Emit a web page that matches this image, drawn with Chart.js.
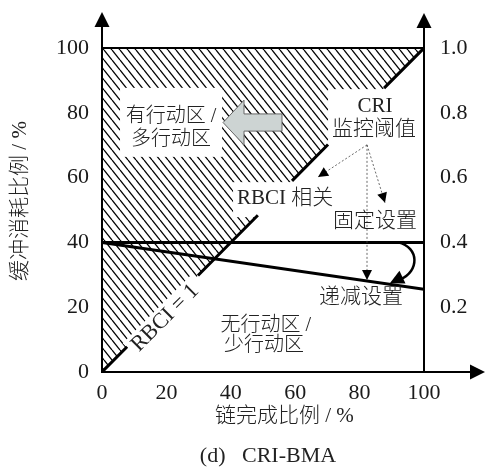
<!DOCTYPE html>
<html lang="zh">
<head>
<meta charset="UTF-8">
<title>CRI-BMA</title>
<script src="https://cdn.jsdelivr.net/npm/chart.js"></script>
<style>
  html, body { margin: 0; padding: 0; background: #fff; }
  #wrap { width: 486px; height: 468px; }
</style>
</head>
<body>
<div id="wrap"><canvas id="chart" width="486" height="468"></canvas></div>
<script>
  // tick labels
  const xTicks = [0, 20, 40, 60, 80, 100];
  const leftTicks = [0, 20, 40, 60, 80, 100];
  const rightTicks = [0.2, 0.4, 0.6, 0.8, 1.0];

  // fixed CRI threshold
  const fixedX = [0, 100];
  const fixedY = [40, 40];
  // decreasing CRI threshold
  const decX = [0, 100];
  const decY = [40, 25.5];
  // RBCI = 1 diagonal, broken where the labels sit
  const rbciSegs = [[0, 7.8], [29.8, 48.4], [59, 70.2], [87.6, 100]];
  // hatched zone: above the diagonal, up to 100
  const zoneX = [0, 100];
  const zoneY = [0, 100];
  const topX = [0, 100];
  const topY = [100, 100];

  const SERIF = '"Liberation Serif", "Noto Sans CJK SC", serif';
  const INK = '#1a1a1a';

  // diagonal hatch tile
  function hatchPattern() {
    const c = document.createElement('canvas');
    c.width = 8; c.height = 10;
    const g = c.getContext('2d');
    g.strokeStyle = '#000';
    g.lineWidth = 1.3;
    for (let k = -1; k <= 1; k++) {
      g.beginPath();
      g.moveTo(k * 8, 0);
      g.lineTo(k * 8 + 8, 10);
      g.stroke();
    }
    return g.createPattern(c, 'repeat');
  }

  const toPts = (xs, ys) => xs.map((x, i) => ({ x: x, y: ys[i] }));
  const rbciPts = [];
  rbciSegs.forEach((s, i) => {
    if (i > 0) rbciPts.push({ x: s[0], y: null });
    rbciPts.push({ x: s[0], y: s[0] }, { x: s[1], y: s[1] });
  });

  // white boxes behind labels inside the hatch (data units)
  const masks = [
    { x0: 5.6, x1: 37.3, y0: 66.4, y1: 87.7 },
    { x0: 40.7, x1: 59, y0: 47.8, y1: 58.6 },
    { x0: 70.2, x1: 87.6, y0: 69.4, y1: 87.3 }
  ];

  const notes = [
    { t: '有行动区 /', x: 21.4, y: 78.7, size: 20 },
    { t: '多行动区', x: 21.4, y: 71.6, size: 20 },
    { t: 'CRI', x: 84.8, y: 81.8, size: 21 },
    { t: '监控阈值', x: 84.5, y: 75, size: 21 },
    { t: 'RBCI 相关', x: 41.9, y: 53.7, size: 21, align: 'left' },
    { t: '固定设置', x: 84.8, y: 46.6, size: 21 },
    { t: '递减设置', x: 80.4, y: 23.1, size: 21 },
    { t: '无行动区 /', x: 50.9, y: 14.2, size: 20 },
    { t: '少行动区', x: 50.3, y: 8, size: 20 }
  ];

  function head(ctx, fx, fy, tx, ty, len, half) {
    const a = Math.atan2(ty - fy, tx - fx);
    ctx.beginPath();
    ctx.moveTo(tx, ty);
    ctx.lineTo(tx - len * Math.cos(a) + half * Math.sin(a), ty - len * Math.sin(a) - half * Math.cos(a));
    ctx.lineTo(tx - len * Math.cos(a) - half * Math.sin(a), ty - len * Math.sin(a) + half * Math.cos(a));
    ctx.closePath();
    ctx.fill();
  }

  const deco = {
    id: 'deco',
    afterDatasetDraw(chart, args) {
      if (args.index !== 4) return;
      const { ctx, scales: { x, y } } = chart;
      ctx.save();
      ctx.fillStyle = '#fff';
      masks.forEach(m => {
        const l = x.getPixelForValue(m.x0), r = x.getPixelForValue(m.x1);
        const t = y.getPixelForValue(m.y1), b = y.getPixelForValue(m.y0);
        ctx.fillRect(l, t, r - l, b - t);
      });
      // band behind the rotated RBCI = 1 label
      ctx.translate(x.getPixelForValue(19.6), y.getPixelForValue(16.7));
      ctx.rotate(-Math.PI / 4);
      ctx.fillRect(-48, -12, 96, 22);
      ctx.restore();
    },
    afterDatasetsDraw(chart) {
      const { ctx, scales: { x, y } } = chart;
      const P = (a, b) => [x.getPixelForValue(a), y.getPixelForValue(b)];
      ctx.save();

      // grey block arrow
      const ax = [37.6, 44.1, 55.9], ac = 77;
      ctx.beginPath();
      ctx.moveTo(...P(ax[0], ac));
      ctx.lineTo(...P(ax[1], ac + 6.9));
      ctx.lineTo(...P(ax[1], ac + 2.65));
      ctx.lineTo(...P(ax[2], ac + 2.65));
      ctx.lineTo(...P(ax[2], ac - 2.65));
      ctx.lineTo(...P(ax[1], ac - 2.65));
      ctx.lineTo(...P(ax[1], ac - 6.9));
      ctx.closePath();
      ctx.fillStyle = '#cdd4d3';
      ctx.fill();
      ctx.strokeStyle = '#666';
      ctx.lineWidth = 1;
      ctx.stroke();

      // dashed pointers from the CRI label
      const o = P(82.3, 70.1);
      ctx.strokeStyle = '#444';
      ctx.fillStyle = '#000';
      ctx.lineWidth = 0.8;
      [[67.1, 60.2], [87.9, 52.2], [82.3, 28.4]].forEach(tp => {
        const t = P(tp[0], tp[1]);
        ctx.setLineDash([2, 2]);
        ctx.beginPath();
        ctx.moveTo(o[0], o[1]);
        ctx.lineTo(t[0], t[1]);
        ctx.stroke();
        ctx.setLineDash([]);
        head(ctx, o[0], o[1], t[0], t[1], 10, 5);
      });

      // curved arrow from fixed to decreasing threshold
      const p0 = P(92, 40), c1 = P(98.6, 38.5), c2 = P(98.6, 31), p3 = P(92.6, 28.6);
      ctx.strokeStyle = '#000';
      ctx.lineWidth = 2.5;
      ctx.beginPath();
      ctx.moveTo(...p0);
      ctx.bezierCurveTo(...c1, ...c2, ...p3);
      ctx.stroke();
      const tip = P(89.4, 27.4);
      head(ctx, p3[0] + 4, p3[1] - 3, tip[0], tip[1], 14, 7);

      // labels
      ctx.fillStyle = '#222';
      ctx.textBaseline = 'middle';
      notes.forEach(n => {
        ctx.font = `300 ${n.size}px ${SERIF}`;
        ctx.textAlign = n.align || 'center';
        ctx.fillText(n.t, ...P(n.x, n.y));
      });
      ctx.save();
      ctx.translate(...P(19.6, 16.7));
      ctx.rotate(-Math.PI / 4);
      ctx.font = `22px ${SERIF}`;
      ctx.textAlign = 'center';
      ctx.fillText('RBCI = 1', 0, 0);
      ctx.restore();
      ctx.restore();
    },
    afterDraw(chart) {
      const { ctx, chartArea: a } = chart;
      ctx.save();
      ctx.strokeStyle = '#000';
      ctx.fillStyle = '#000';
      ctx.lineWidth = 2;
      ctx.beginPath();
      ctx.moveTo(a.left, a.top); ctx.lineTo(a.left, 27);
      ctx.moveTo(a.right, a.top); ctx.lineTo(a.right, 28);
      ctx.moveTo(a.right, a.bottom); ctx.lineTo(471, a.bottom);
      ctx.stroke();
      head(ctx, a.left, 40, a.left, 12, 15, 7.5);
      head(ctx, a.right, 40, a.right, 13, 15, 7.5);
      head(ctx, 460, a.bottom, 485, a.bottom, 15, 7.5);

      // axis titles and caption
      ctx.fillStyle = '#222';
      ctx.textBaseline = 'middle';
      ctx.font = `300 21px ${SERIF}`;
      ctx.textAlign = 'left';
      ctx.fillText('链完成比例 / %', 215, 416);
      ctx.font = `22px ${SERIF}`;
      ctx.textAlign = 'center';
      ctx.fillText('(d)   CRI-BMA', 268, 456);
      ctx.translate(20, 201);
      ctx.rotate(-Math.PI / 2);
      ctx.font = `300 21px ${SERIF}`;
      ctx.fillText('缓冲消耗比例 / %', 0, 0);
      ctx.restore();
    }
  };

  const lineDs = (data, w) => ({
    type: 'line', data: data, borderColor: '#000', borderWidth: w,
    pointRadius: 0, fill: false, tension: 0, spanGaps: false
  });

  const tickFont = { family: SERIF, size: 22 };

  new Chart(document.getElementById('chart'), {
    type: 'line',
    data: {
      datasets: [
        lineDs(toPts(fixedX, fixedY), 3),
        lineDs(toPts(decX, decY), 3),
        lineDs(rbciPts, 3),
        Object.assign(lineDs(toPts(topX, topY), 2), { clip: false }),
        {
          type: 'line', data: toPts(zoneX, zoneY), borderWidth: 0, pointRadius: 0,
          fill: 'end', backgroundColor: hatchPattern(), order: 10
        }
      ]
    },
    options: {
      responsive: false,
      animation: false,
      events: [],
      layout: { padding: { top: 48, left: 0, right: 0, bottom: 0 } },
      plugins: { legend: { display: false }, tooltip: { enabled: false } },
      scales: {
        x: {
          type: 'linear', min: 0, max: 100,
          afterBuildTicks: s => { s.ticks = xTicks.map(v => ({ value: v })); },
          afterFit: s => { s.height = 96; },
          grid: { display: false, drawTicks: false },
          border: { color: '#000', width: 2 },
          ticks: { font: tickFont, color: INK, padding: 8, maxRotation: 0 }
        },
        y: {
          type: 'linear', min: 0, max: 100, position: 'left',
          afterBuildTicks: s => { s.ticks = leftTicks.map(v => ({ value: v })); },
          afterFit: s => { s.width = 102; },
          grid: { display: false, drawTicks: false },
          border: { color: '#000', width: 2 },
          ticks: { font: tickFont, color: INK, padding: 13 }
        },
        y2: {
          type: 'linear', min: 0, max: 1, position: 'right',
          afterBuildTicks: s => { s.ticks = rightTicks.map(v => ({ value: v })); },
          afterFit: s => { s.width = 62; },
          grid: { display: false, drawTicks: false },
          border: { color: '#000', width: 2 },
          ticks: { font: tickFont, color: INK, padding: 16, callback: v => v.toFixed(1) }
        }
      }
    },
    plugins: [deco]
  });
</script>
</body>
</html>
